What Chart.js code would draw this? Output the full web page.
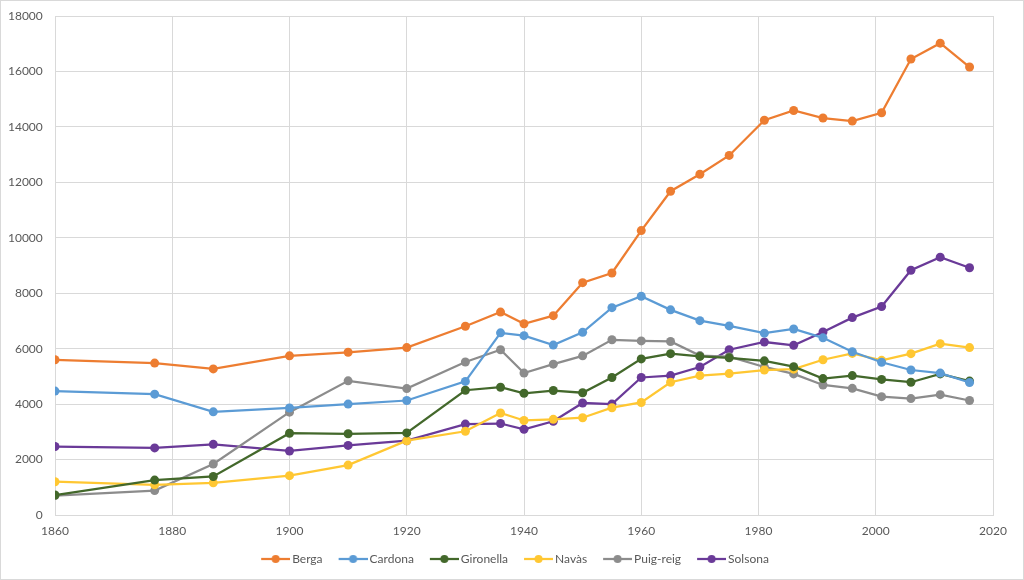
<!DOCTYPE html>
<html>
<head>
<meta charset="utf-8">
<script src="https://cdn.jsdelivr.net/npm/chart.js@4"></script>
<style>
  html, body { margin: 0; padding: 0; background: #fff; }
  #wrap { width: 1024px; height: 580px; }
</style>
</head>
<body>
<div id="wrap"><canvas id="c" width="1024" height="580"></canvas></div>
<script>
// anys del cens
const years = [1860, 1877, 1887, 1900, 1910, 1920, 1930, 1936, 1940, 1945, 1950, 1955,
  1960, 1965, 1970, 1975, 1981, 1986, 1991, 1996, 2001, 2006, 2011, 2016];

const berga = [5600, 5480, 5270, 5740, 5870, 6040, 6810, 7320, 6900, 7190, 8380, 8730,
  10260, 11680, 12290, 12970, 14240, 14590, 14320, 14210, 14510, 16450, 17020, 16160];
const cardona = [4470, 4360, 3720, 3860, 4000, 4130, 4820, 6570, 6470, 6130, 6590, 7480,
  7890, 7400, 7010, 6820, 6560, 6710, 6390, 5890, 5510, 5230, 5120, 4780];
const gironella = [720, 1260, 1390, 2950, 2930, 2960, 4500, 4610, 4390, 4490, 4410, 4960,
  5630, 5820, 5720, 5670, 5560, 5350, 4920, 5030, 4890, 4790, 5090, 4830];
const navas = [1200, 1090, 1160, 1420, 1800, 2680, 3020, 3680, 3410, 3450, 3510, 3870,
  4060, 4790, 5030, 5100, 5230, 5260, 5600, 5830, 5580, 5820, 6180, 6040];
const puigreig = [700, 880, 1840, 3710, 4840, 4560, 5520, 5960, 5120, 5440, 5740, 6320,
  6280, 6260, 5750, 5710, 5340, 5090, 4690, 4570, 4270, 4200, 4340, 4130];
const solsona = [2470, 2420, 2550, 2310, 2510, 2680, 3280, 3300, 3090, 3380, 4040, 4000,
  4960, 5030, 5340, 5960, 6240, 6120, 6600, 7120, 7520, 8830, 9300, 8920];

const seriesNames = ['Berga', 'Cardona', 'Gironella', 'Navàs', 'Puig-reig', 'Solsona'];
const seriesValues = [berga, cardona, gironella, navas, puigreig, solsona];
const seriesColors = ['#ED7D31', '#5B9BD5', '#43682B', '#FFC732', '#8C8C8C', '#6A3A98'];

const xTicks = [1860, 1880, 1900, 1920, 1940, 1960, 1980, 2000, 2020];
const yTicks = [0, 2000, 4000, 6000, 8000, 10000, 12000, 14000, 16000, 18000];

const FONT = "Lato, 'Liberation Sans', sans-serif";

// icona de llegenda: línia amb punt (10px transparents a l'esquerra per l'espaiat)
function legendIcon (color) {
  const cv = document.createElement('canvas');
  cv.width = 39; cv.height = 10;
  const g = cv.getContext('2d');
  g.strokeStyle = color; g.lineWidth = 2.25;
  g.beginPath(); g.moveTo(10, 5); g.lineTo(39, 5); g.stroke();
  g.fillStyle = color;
  g.beginPath(); g.arc(24.5, 5, 4, 0, Math.PI * 2); g.fill();
  return cv;
}

const datasets = seriesNames.map((name, i) => ({
  label: name,
  data: years.map((yr, j) => ({ x: yr, y: seriesValues[i][j] })),
  borderColor: seriesColors[i],
  backgroundColor: seriesColors[i],
  borderWidth: 2.25,
  pointRadius: 4.5,
  pointBorderWidth: 0,
  pointBackgroundColor: seriesColors[i],
  tension: 0,
  icon: legendIcon(seriesColors[i])
}));

// marc exterior
const frame = {
  id: 'frame',
  afterDraw (chart) {
    const ctx = chart.ctx;
    ctx.save();
    ctx.strokeStyle = '#d9d9d9';
    ctx.lineWidth = 1;
    ctx.strokeRect(0.5, 0.5, chart.width - 1, chart.height - 1);
    ctx.restore();
  }
};

new Chart(document.getElementById('c'), {
  type: 'line',
  data: { datasets },
  plugins: [frame],
  options: {
    responsive: false,
    animation: false,
    devicePixelRatio: 1,
    layout: { padding: { left: 0, right: 0, top: 16, bottom: 5 } },
    plugins: {
      tooltip: { enabled: false },
      legend: {
        position: 'bottom',
        labels: {
          font: { family: FONT, size: 12 },
          color: '#595959',
          usePointStyle: true,
          pointStyleWidth: 31,
          boxHeight: 10,
          padding: 10,
          generateLabels (chart) {
            return chart.data.datasets.map((ds, i) => ({
              text: ds.label,
              pointStyle: ds.icon,
              fillStyle: ds.borderColor,
              strokeStyle: ds.borderColor,
              lineWidth: 0,
              fontColor: '#595959',
              datasetIndex: i
            }));
          }
        }
      }
    },
    scales: {
      x: {
        type: 'linear',
        min: 1860,
        max: 2020,
        afterBuildTicks (axis) { axis.ticks = xTicks.map(v => ({ value: v })); },
        afterFit (axis) { axis.height = 28; },
        grid: { color: '#d9d9d9', drawTicks: false },
        border: { color: '#d9d9d9' },
        ticks: {
          padding: 9,
          color: '#595959',
          font: { family: FONT, size: 12 },
          callback: v => String(v)
        }
      },
      y: {
        min: 0,
        max: 18000,
        afterBuildTicks (axis) { axis.ticks = yTicks.map(v => ({ value: v })); },
        afterFit (axis) { axis.width = 55; },
        grid: { color: '#d9d9d9', drawTicks: false },
        border: { color: '#d9d9d9' },
        ticks: {
          padding: 3,
          color: '#595959',
          font: { family: FONT, size: 12 },
          callback: v => String(v) + '   '
        }
      },
      // espai buit a la dreta de l'àrea del gràfic
      gap: {
        type: 'linear',
        position: 'right',
        display: true,
        afterFit (axis) { axis.width = 31; },
        grid: { display: false },
        border: { display: false },
        ticks: { display: false }
      }
    }
  }
});
</script>
</body>
</html>
